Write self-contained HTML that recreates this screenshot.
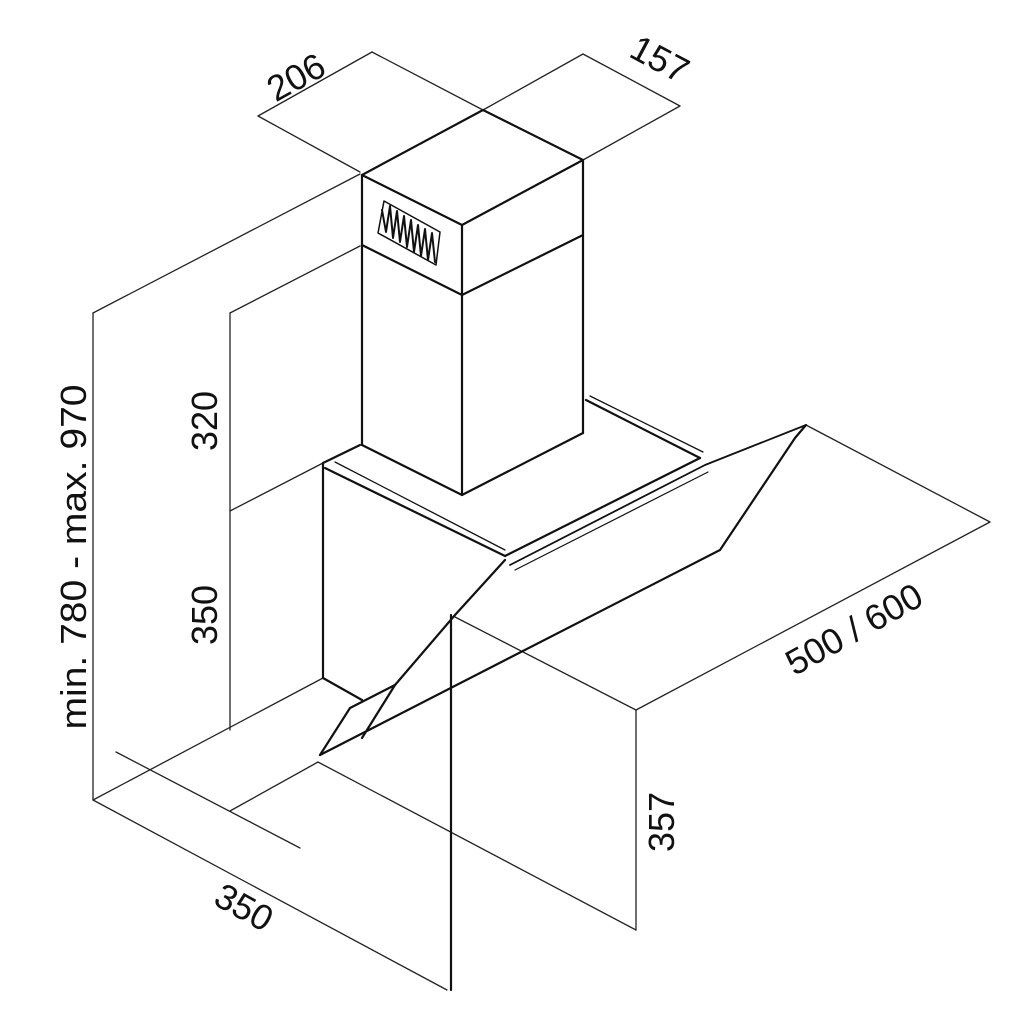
<!DOCTYPE html>
<html><head><style>html,body{margin:0;padding:0;background:#fff}svg{display:block}</style></head>
<body>
<svg width="1024" height="1024" viewBox="0 0 1024 1024" xmlns="http://www.w3.org/2000/svg">
<g fill="none" stroke="#111" stroke-linecap="round" stroke-linejoin="round">
<g stroke-width="1.3" stroke="#222">
<line x1="258" y1="116" x2="372" y2="52"/>
<line x1="258" y1="116" x2="360" y2="172"/>
<line x1="372" y1="52" x2="483" y2="110"/>
<line x1="483" y1="110" x2="583" y2="54"/>
<line x1="583" y1="54" x2="680" y2="106"/>
<line x1="680" y1="106" x2="583" y2="160"/>
<line x1="93" y1="313" x2="360" y2="174"/>
<line x1="93" y1="313" x2="93" y2="800"/>
<line x1="230" y1="313" x2="360" y2="246"/>
<line x1="230" y1="313" x2="230" y2="730"/>
<line x1="230" y1="511" x2="323" y2="463"/>
<line x1="93" y1="800" x2="323" y2="678"/>
<line x1="230" y1="811" x2="318" y2="762"/>
<line x1="116" y1="752" x2="300" y2="848"/>
<line x1="93" y1="800" x2="447" y2="990"/>
<line x1="318" y1="762" x2="636" y2="930"/>
<line x1="636" y1="710" x2="636" y2="930"/>
<line x1="636" y1="710" x2="990" y2="522"/>
<line x1="990" y1="522" x2="806" y2="425"/>
<line x1="455" y1="617" x2="636" y2="710"/>
</g>
<g stroke-width="2.2">
<polygon points="362,175 483,110 583,160 462,225"/>
<line x1="362" y1="175" x2="362" y2="445"/>
<line x1="462" y1="225" x2="462" y2="495"/>
<line x1="583" y1="160" x2="583" y2="433"/>
<polyline points="362,245 462,295 583,235"/>
<polyline points="362,445 462,495 583,433"/>
<polygon points="384,201 440,232 436,265 378,233" stroke-width="1.5"/>
<polyline stroke-width="2" points="382,210 386,232 390,206 393,238 397,211 400,242 404,216 407,247 411,220 414,252 418,225 421,256 425,229 428,260 432,233 435,262"/>
<line x1="323" y1="463" x2="323" y2="678"/>
<line x1="323" y1="463" x2="360" y2="445"/>
<line x1="323" y1="678" x2="362" y2="700"/>
<polyline points="325,468 505,556"/>
<polyline points="335,462 505,550" stroke-width="1.3"/>
<polyline points="586,400 700,458"/>
<polyline points="590,396 703,452" stroke-width="1.3"/>
<polyline points="505,556 700,458"/>
<polyline points="510,565 705,465 806,425" stroke-width="1.8"/>
<polyline points="515,570 708,472" stroke-width="1.2"/>
<polyline points="806,425 795,438 720,550 320,755"/>
<polyline points="505,560 455,615 395,685 350,708 320,755"/>
<polyline points="395,685 362,738"/>
<line x1="451" y1="615" x2="451" y2="990"/>
</g>
</g>
<g font-family="Liberation Sans, Arial, sans-serif" font-size="36" fill="#111">
<text x="0" y="0" transform="translate(302,88) rotate(-29)" text-anchor="middle">206</text>
<text x="0" y="0" transform="translate(654,70) rotate(28)" text-anchor="middle">157</text>
<text x="0" y="0" transform="translate(86,557) rotate(-90)" text-anchor="middle" textLength="345" lengthAdjust="spacingAndGlyphs">min. 780 - max. 970</text>
<text x="0" y="0" transform="translate(217,421) rotate(-90)" text-anchor="middle">320</text>
<text x="0" y="0" transform="translate(217,615) rotate(-90)" text-anchor="middle">350</text>
<text x="0" y="0" transform="translate(674,822) rotate(-90)" text-anchor="middle">357</text>
<text x="0" y="0" transform="translate(860,640) rotate(-29)" text-anchor="middle">500 / 600</text>
<text x="0" y="0" transform="translate(238,918) rotate(29)" text-anchor="middle">350</text>
</g>
</svg>
</body></html>
